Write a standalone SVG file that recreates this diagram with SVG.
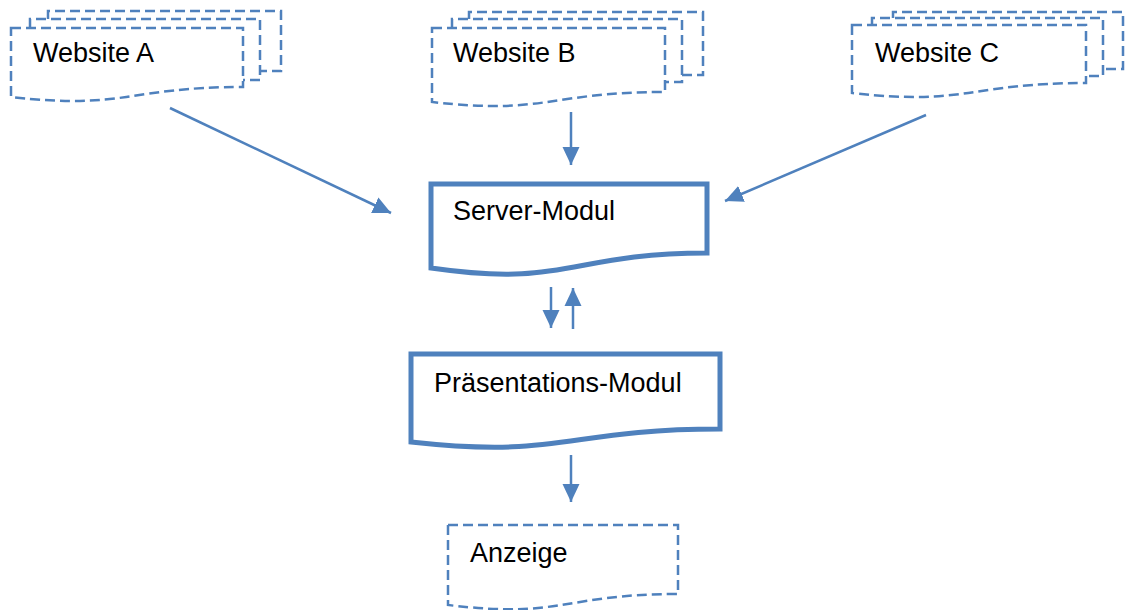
<svg xmlns="http://www.w3.org/2000/svg" width="1126" height="610" viewBox="0 0 1126 610">
<style>
.dash{fill:none;stroke:#4F81BD;stroke-width:2.5;stroke-dasharray:10 5;}
.dashf{fill:#fff;stroke:#4F81BD;stroke-width:2.5;stroke-dasharray:10 5;}
.thick{fill:#fff;stroke:#4F81BD;stroke-width:5;stroke-linejoin:miter;}
.lbl{font-family:"Liberation Sans",Arial,sans-serif;font-size:27px;fill:#000;}
.conn{stroke:#4F81BD;stroke-width:2.5;fill:none;marker-end:url(#ah);}
</style>
<defs>
<marker id="ah" markerUnits="userSpaceOnUse" markerWidth="19" markerHeight="19" viewBox="0 0 19 19" refX="18" refY="9.5" orient="auto">
<path d="M0,1 L18,9.5 L0,18 Z" fill="#4F81BD"/>
</marker>
</defs>
<rect width="1126" height="610" fill="#fff"/>

<g id="websiteA">
<path class="dash" d="M48,19 V11 H281 V71 H260"/>
<path class="dash" d="M30,28 V19 H260 V80 H243"/>
<path class="dashf" d="M11,28 H243 V87 C127,87 127,110 11,97 Z"/>
<text class="lbl" x="33" y="62">Website A</text>
</g>

<g id="websiteB">
<path class="dash" d="M469,19 V12 H703 V75 H682"/>
<path class="dash" d="M452,28 V19 H682 V82 H665"/>
<path class="dashf" d="M432,28 H665 V92 C548,92 548,115 432,102 Z"/>
<text class="lbl" x="453" y="62">Website B</text>
</g>

<g id="websiteC">
<path class="dash" d="M893,18 V12 H1123 V69 H1103"/>
<path class="dash" d="M872,25 V18 H1103 V76 H1086"/>
<path class="dashf" d="M852,25 H1086 V83 C969,83 969,106 852,93 Z"/>
<text class="lbl" x="875" y="62">Website C</text>
</g>

<g id="server">
<path class="thick" d="M431,184 H707 V253 C569,253 569,288 431,268 Z"/>
<text class="lbl" x="453" y="220">Server-Modul</text>
</g>

<g id="praesentation">
<path class="thick" d="M411,354 H720 V429 C565,429 565,459 411,442 Z"/>
<text class="lbl" x="434" y="392">Präsentations-Modul</text>
</g>

<g id="anzeige">
<path class="dashf" d="M448,525 H678 V594 C563,594 563,619 448,605 Z"/>
<text class="lbl" x="470" y="562">Anzeige</text>
</g>

<g id="connectors">
<line class="conn" x1="170" y1="108" x2="391" y2="213"/>
<line class="conn" x1="571" y1="112" x2="571" y2="165"/>
<line class="conn" x1="926" y1="115" x2="725" y2="201"/>
<line class="conn" x1="551" y1="287" x2="551" y2="328"/>
<line class="conn" x1="573" y1="329" x2="573" y2="288"/>
<line class="conn" x1="571" y1="455" x2="571" y2="502"/>
</g>
</svg>
